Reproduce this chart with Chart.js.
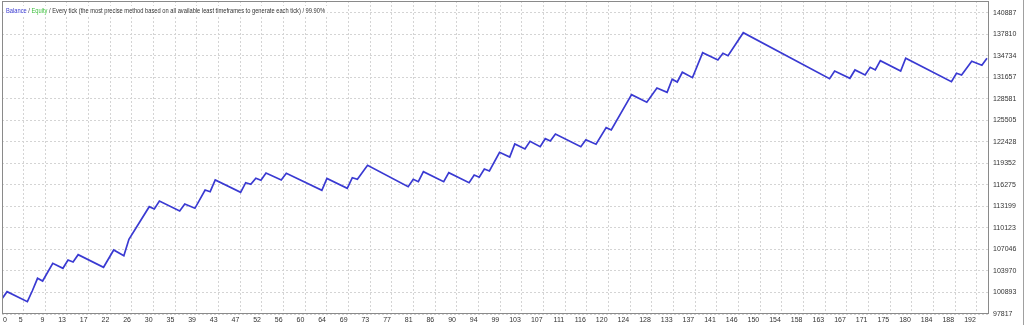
<!DOCTYPE html>
<html>
<head>
<meta charset="utf-8">
<script src="https://cdn.jsdelivr.net/npm/chart.js@4.4.1/dist/chart.umd.min.js"></script>
<style>
  html, body { margin: 0; padding: 0; background: #fff; }
  #wrap { width: 1024px; height: 325px; position: relative; }
</style>
</head>
<body>
<div id="wrap"><canvas id="balanceChart"></canvas></div>
<script>
// Balance curve: trade number at each turning point and the balance there
const tradeNo = [0, 1, 5, 6, 7, 8, 10, 12, 13, 14, 15, 20, 22, 24, 25, 29, 30, 31, 35, 36,
  38, 40, 41, 42, 47, 48, 49, 50, 51, 52, 55, 56, 63, 64, 68, 69, 70, 72, 80, 81,
  82, 83, 87, 88, 92, 93, 94, 95, 96, 98, 100, 101, 103, 104, 106, 107, 108, 109, 114, 115,
  117, 119, 120, 124, 127, 129, 131, 132, 133, 134, 136, 138, 141, 142, 143, 146, 163, 164, 167, 168,
  170, 171, 172, 173, 177, 178, 187, 188, 189, 191, 193, 194];
const balance = [100000, 101008, 99577, 101180, 102925, 102539, 105072, 104356, 105544, 105258,
  106302, 104499, 106975, 106159, 108506, 113171, 112841, 113986, 112555, 113557,
  112942, 115560, 115317, 116991, 115231, 116605, 116376, 117234, 116948, 117993,
  116991, 117950, 115517, 117206, 115803, 117320, 117091, 119094, 116032, 117091,
  116748, 118179, 116748, 118035, 116605, 117707, 117377, 118565, 118279, 120955,
  120282, 122142, 121427, 122529, 121756, 122901, 122572, 123573, 121756, 122757,
  122099, 124475, 124146, 129197, 128109, 130155, 129539, 131400, 131014, 132402,
  131629, 135206, 134162, 135120, 134777, 138068, 131486, 132588, 131543, 132731,
  132016, 133117, 132731, 134062, 132588, 134405, 131057, 132259, 132016, 133976,
  133403, 134405];

const yTicks = [97817, 100893, 103970, 107046, 110123, 113199, 116275, 119352,
  122428, 125505, 128581, 131657, 134734, 137810, 140887];
const xTickLabels = ['0', '5', '9', '13', '17', '22', '26', '30', '35', '39', '43', '47',
  '52', '56', '60', '64', '69', '73', '77', '81', '86', '90', '94', '99', '103', '107',
  '111', '116', '120', '124', '128', '133', '137', '141', '146', '150', '154', '158',
  '163', '167', '171', '175', '180', '184', '188', '192'];
const xGridStep = 192 / 45; // trades per grid cell

const legendParts = [
  ['Balance', '#3a3ad0'],
  [' / ', '#333'],
  ['Equity', '#3cbf3c'],
  [' / Every tick (the most precise method based on all available least timeframes to generate each tick) / 99.90%', '#333']
];

const labelFont = '7px "Liberation Sans", Arial, sans-serif';

// frame, x labels and the header text in the top left corner
const testerDecor = {
  id: 'testerDecor',
  afterDraw(chart) {
    const { ctx, chartArea: a, scales: { x } } = chart;
    ctx.save();
    ctx.strokeStyle = '#8a8a8a';
    ctx.lineWidth = 1;
    ctx.strokeRect(Math.round(a.left) + 0.5, Math.round(a.top) + 0.5,
      Math.round(a.right - a.left) - 1, Math.round(a.bottom - a.top) - 1);
    ctx.strokeStyle = '#a0a0a0';
    ctx.beginPath();
    ctx.moveTo(chart.width - 0.5, 0);
    ctx.lineTo(chart.width - 0.5, chart.height);
    ctx.stroke();

    ctx.font = labelFont;
    ctx.fillStyle = '#333';
    ctx.textBaseline = 'middle';
    x.ticks.forEach((t, k) => {
      const px = x.getPixelForValue(t.value);
      ctx.textAlign = k === 0 ? 'left' : 'right';
      ctx.fillText(xTickLabels[k], k === 0 ? px + 1 : px - 1, a.bottom + 6);
    });

    // header is narrow in the original, squeeze it horizontally
    const squeeze = 0.82;
    ctx.textAlign = 'left';
    let w = 0;
    legendParts.forEach(p => { w += ctx.measureText(p[0]).width; });
    ctx.fillStyle = '#fff';
    ctx.fillRect(a.left + 2, a.top + 5, w * squeeze + 4, 10);
    ctx.translate(a.left + 4, a.top + 10);
    ctx.scale(squeeze, 1);
    let tx = 0;
    legendParts.forEach(([txt, col]) => {
      ctx.fillStyle = col;
      ctx.fillText(txt, tx, 0);
      tx += ctx.measureText(txt).width;
    });
    ctx.restore();
  }
};

const noEdgePadding = scale => {
  scale.paddingTop = 0;
  scale.paddingBottom = 0;
  scale.paddingLeft = 0;
  scale.paddingRight = 0;
};

const ctx = document.getElementById('balanceChart').getContext('2d');
const balanceChart = new Chart(ctx, {
  type: 'line',
  data: {
    datasets: [{
      label: 'Balance',
      data: tradeNo.map((t, i) => ({ x: t, y: balance[i] })),
      borderColor: '#3a3ad2',
      borderWidth: 1.7,
      pointRadius: 0,
      tension: 0,
      fill: false
    }]
  },
  options: {
    responsive: true,
    maintainAspectRatio: false,
    animation: false,
    layout: { padding: { left: 2, top: 1, right: 0, bottom: 0 } },
    plugins: {
      legend: { display: false },
      tooltip: { enabled: false }
    },
    scales: {
      x: {
        type: 'linear',
        min: 0,
        max: 194.4,
        afterBuildTicks: scale => {
          scale.ticks = xTickLabels.map((_, k) => ({ value: k * xGridStep }));
        },
        afterFit: scale => { scale.height = 11; noEdgePadding(scale); },
        ticks: { display: false, autoSkip: false },
        grid: { color: '#d4d4d4', drawTicks: false },
        border: { display: false, dash: [2, 2] }
      },
      y: {
        position: 'right',
        min: 97817,
        max: 142600,
        afterBuildTicks: scale => {
          scale.ticks = yTicks.map(v => ({ value: v }));
        },
        afterFit: scale => { scale.width = 35; noEdgePadding(scale); },
        ticks: {
          autoSkip: false,
          padding: 4,
          color: '#333',
          font: { family: '"Liberation Sans", Arial, sans-serif', size: 7 },
          callback: v => String(v)
        },
        grid: { color: '#d4d4d4', drawTicks: false },
        border: { display: false, dash: [2, 2] }
      }
    }
  },
  plugins: [testerDecor]
});
</script>
</body>
</html>
